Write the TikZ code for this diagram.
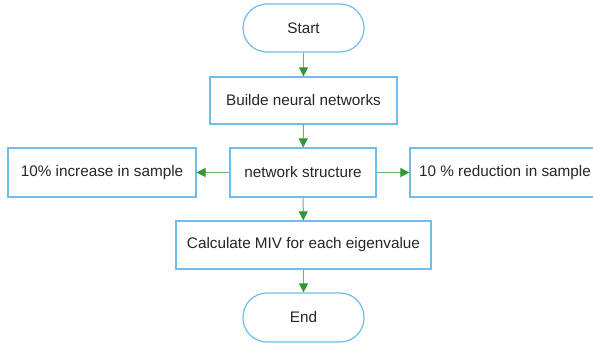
\documentclass[tikz,border=0pt]{standalone}
\usepackage{fontspec}
\setmainfont{Liberation Sans}
\usetikzlibrary{arrows.meta}
\definecolor{bord}{RGB}{110,190,235}
\definecolor{arrg}{RGB}{50,150,50}
\definecolor{lineg}{RGB}{110,180,110}
\begin{document}
\begin{tikzpicture}[x=1pt,y=-1pt,
  box/.style={draw=bord,line width=1.2pt,fill=white,inner sep=0pt,font=\fontsize{15.3}{18}\selectfont,text=black!85},
  term/.style={box,rounded corners=24pt},
  arr/.style={draw=lineg,line width=1pt,-{Triangle[length=9pt,width=9pt,fill=arrg,color=arrg]}}]
\useasboundingbox (0,0) rectangle (593,343);
\clip (0,0) rectangle (593,343);
\node[term,minimum width=121pt,minimum height=48pt] (start) at (303.5,28) {Start};
\node[box,minimum width=187pt,minimum height=47pt] (build) at (303.5,100.5) {Builde neural networks};
\node[box,minimum width=146pt,minimum height=49pt] (net) at (303,172.5) {network structure};
\node[box,minimum width=188pt,minimum height=49pt] (left) at (102,172.5) {10\% increase in sample};
\node[box,minimum width=190pt,minimum height=49pt] (right) at (505,172.5) {10 \% reduction in sample};
\node[box,minimum width=255pt,minimum height=48pt] (calc) at (303.5,245) {Calculate MIV for each eigenvalue};
\node[term,minimum width=121pt,minimum height=49pt] (end) at (303.5,317.5) {End};
\draw[arr] (start) -- (build);
\draw[arr] (build) -- (net);
\draw[arr] (net) -- (left);
\draw[arr] (net) -- (right);
\draw[arr] (net) -- (calc);
\draw[arr] (calc) -- (end);
\end{tikzpicture}
\end{document}
